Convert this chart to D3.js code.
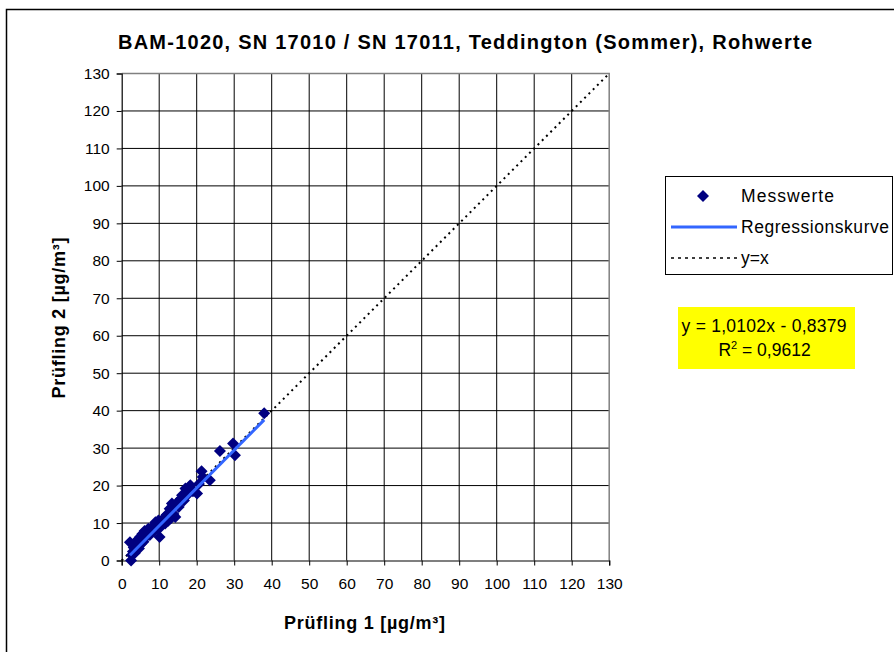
<!DOCTYPE html>
<html>
<head>
<meta charset="utf-8">
<script src="https://cdn.jsdelivr.net/npm/d3@7"></script>
<style>
  body { margin: 0; background: #fff; }
  svg text { font-family: Arial, "Liberation Sans", sans-serif; }
</style>
</head>
<body>
<svg id="chart" width="894" height="652"></svg>
<script>
const titleText = "BAM-1020, SN 17010 / SN 17011, Teddington (Sommer), Rohwerte";
const xLabel = "Prüfling 1 [µg/m³]";
const yLabel = "Prüfling 2 [µg/m³]";
const tickValues = [0,10,20,30,40,50,60,70,80,90,100,110,120,130];
const legendLabels = ["Messwerte", "Regressionskurve", "y=x"];
const slope = 1.0102;
const intercept = -0.8379;
const eqLines = ["y = 1,0102x - 0,8379", "R² = 0,9612"];

const pruefling1 = [2.2, 2.5, 2.7, 3.0, 3.2, 3.5, 3.8, 4.0, 4.3, 4.6, 4.9, 5.2, 5.5, 5.8, 6.1, 6.4, 6.8, 7.1, 7.5, 7.8,
  8.2, 8.6, 9.0, 9.4, 9.8, 10.1, 10.3, 10.7, 11.2, 11.6, 12.0, 12.4, 12.8, 13.1, 13.4, 13.8, 14.3, 14.7, 15.2, 15.8,
  16.1, 16.6, 17.0, 17.5, 18.0, 18.3, 19.0, 20.1, 20.6, 21.3, 21.6, 23.5, 26.2, 29.7, 30.2, 38.0];
const pruefling2 = [4.9, 0.0, 1.5, 2.4, 3.5, 2.0, 4.8, 3.6, 5.6, 3.2, 6.3, 4.5, 7.1, 5.0, 7.9, 6.2, 8.0, 8.5, 6.8, 7.6,
  9.0, 7.8, 10.2, 8.6, 10.7, 6.25, 8.9, 10.0, 11.3, 9.9, 12.2, 10.6, 13.8, 11.3, 15.2, 12.4, 11.6, 15.4, 14.3, 16.5,
  17.4, 16.0, 19.2, 17.5, 19.6, 20.1, 18.5, 17.9, 20.4, 23.8, 22.3, 21.4, 29.2, 31.25, 28.1, 39.3];

const svg = d3.select("#chart");

// outer frame
svg.append("rect").attr("x", 6.5).attr("y", 9.5).attr("width", 900).attr("height", 660)
  .attr("fill", "#fff").attr("stroke", "#000").attr("stroke-width", 1.5);

const x = d3.scaleLinear().domain([0, 130]).range([121.7, 609.2]);
const y = d3.scaleLinear().domain([0, 130]).range([560.5, 73.5]);

// grid
const g = svg.append("g");
g.selectAll(".vg").data(tickValues.slice(1, -1)).enter().append("line")
  .attr("x1", d => x(d)).attr("x2", d => x(d)).attr("y1", y(0)).attr("y2", y(130))
  .attr("stroke", "#000").attr("stroke-width", 1);
g.selectAll(".hg").data(tickValues.slice(1, -1)).enter().append("line")
  .attr("y1", d => y(d)).attr("y2", d => y(d)).attr("x1", x(0)).attr("x2", x(130))
  .attr("stroke", "#000").attr("stroke-width", 1);
// plot border top/right gray
svg.append("path")
  .attr("d", `M${x(0)},${y(130)}H${x(130)}V${y(0)}`)
  .attr("fill", "none").attr("stroke", "#808080").attr("stroke-width", 1.5);

// axes
const xAxis = d3.axisBottom(x).tickValues(tickValues).tickSize(5).tickPadding(12);
const yAxis = d3.axisLeft(y).tickValues(tickValues).tickSize(5).tickPadding(7);
const gx = svg.append("g").attr("transform", `translate(0,${y(0)})`).call(xAxis);
const gy = svg.append("g").attr("transform", `translate(${x(0)},0)`).call(yAxis);
[gx, gy].forEach(a => {
  a.select(".domain").attr("stroke", "#000").attr("stroke-width", 1.2);
  a.selectAll(".tick line").attr("stroke", "#000");
  a.selectAll(".tick text").attr("font-size", "15.5px").attr("fill", "#000")
    .attr("font-family", "Arial, 'Liberation Sans', sans-serif");
});

// y = x dotted line
svg.append("line")
  .attr("x1", x(0)).attr("y1", y(0)).attr("x2", x(130)).attr("y2", y(130))
  .attr("stroke", "#000").attr("stroke-width", 2).attr("stroke-dasharray", "2,4");

// points
const diamond = d3.symbol().type(d3.symbolSquare).size(72);
svg.append("g").selectAll("path").data(pruefling1.map((v, i) => [v, pruefling2[i]])).enter()
  .append("path").attr("d", diamond)
  .attr("transform", d => `translate(${x(d[0])},${y(d[1])}) rotate(45)`)
  .attr("fill", "#000080");

// regression line (drawn over markers)
const xMin = d3.min(pruefling1), xMax = d3.max(pruefling1);
svg.append("line")
  .attr("x1", x(xMin)).attr("y1", y(slope * xMin + intercept))
  .attr("x2", x(xMax)).attr("y2", y(slope * xMax + intercept))
  .attr("stroke", "#3366FF").attr("stroke-width", 3);

// title
svg.append("text").attr("x", 465).attr("y", 49).attr("text-anchor", "middle")
  .attr("font-size", "20px").attr("font-weight", "bold")
  .attr("textLength", 694).attr("lengthAdjust", "spacing").text(titleText);

// axis labels
svg.append("text").attr("x", 364.5).attr("y", 629).attr("text-anchor", "middle")
  .attr("font-size", "18px").attr("font-weight", "bold")
  .attr("textLength", 161).attr("lengthAdjust", "spacing").text(xLabel);
svg.append("text").attr("transform", `translate(65,${y(65) + 1}) rotate(-90)`).attr("text-anchor", "middle")
  .attr("font-size", "18px").attr("font-weight", "bold")
  .attr("textLength", 161).attr("lengthAdjust", "spacing").text(yLabel);

// legend
const lg = svg.append("g");
lg.append("rect").attr("x", 665.5).attr("y", 176.5).attr("width", 227).attr("height", 98)
  .attr("fill", "#fff").attr("stroke", "#000").attr("stroke-width", 1);
lg.append("path").attr("d", diamond).attr("transform", "translate(703,196) rotate(45)").attr("fill", "#000080");
lg.append("line").attr("x1", 671).attr("x2", 737).attr("y1", 227).attr("y2", 227)
  .attr("stroke", "#3366FF").attr("stroke-width", 3);
lg.append("line").attr("x1", 671).attr("x2", 738).attr("y1", 258).attr("y2", 258)
  .attr("stroke", "#000").attr("stroke-width", 1.5).attr("stroke-dasharray", "3,4");
const legendWidths = [93, 148, null];
legendLabels.forEach((t, i) => {
  const tx = lg.append("text").attr("x", 741).attr("y", 202 + i * 31).attr("font-size", "17.5px").text(t);
  if (legendWidths[i]) tx.attr("textLength", legendWidths[i]).attr("lengthAdjust", "spacing");
});

// equation box
svg.append("rect").attr("x", 678).attr("y", 307).attr("width", 177).attr("height", 62).attr("fill", "#FFFF00");
svg.append("text").attr("x", 764).attr("y", 332).attr("text-anchor", "middle").attr("font-size", "17.5px")
  .attr("textLength", 165).attr("lengthAdjust", "spacing").text(eqLines[0]);
const r2 = svg.append("text").attr("x", 764.5).attr("y", 356).attr("text-anchor", "middle").attr("font-size", "17.5px");
r2.append("tspan").text("R");
r2.append("tspan").attr("dy", -7).attr("font-size", "11px").text("2");
r2.append("tspan").attr("dy", 7).text(" = 0,9612");
</script>
</body>
</html>
